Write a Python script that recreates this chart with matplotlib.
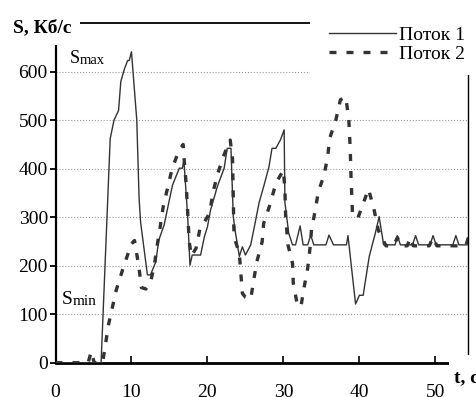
import matplotlib
matplotlib.use('Agg')
import matplotlib.pyplot as plt
from matplotlib.patches import Rectangle
from matplotlib.text import Annotation

# Поток 1 (solid)
t1 = [0, 6.0, 7.2, 7.7, 8.3, 8.6, 9.1, 9.5, 9.7, 10.0, 10.7, 11.0, 11.2, 12.1, 12.5,
      13.2, 13.6, 14.3, 14.7, 15.4, 16.3, 16.7, 16.9, 17.4, 17.7, 18.0, 19.1, 19.6,
      20.0, 20.4, 21.3, 22.2, 22.6, 23.1, 23.4, 23.7, 24.2, 24.6, 25.0, 25.7, 26.3,
      26.8, 27.4, 28.1, 28.5, 29.0, 29.6, 30.1, 30.2, 30.7, 31.2, 31.6, 32.2, 32.6,
      33.2, 33.6, 34.0, 35.6, 36.0, 36.6, 38.3, 38.5, 39.5, 40.0, 40.5, 41.3, 42.1,
      42.6, 43.2, 44.7, 45.0, 45.4, 47.0, 47.4, 47.8, 49.3, 49.7, 50.1, 52.3, 52.7,
      53.1, 54.4]
s1 = [0, 0, 462, 500, 520, 580, 607, 623, 623, 641, 500, 340, 290, 181, 181,
      208, 253, 284, 314, 366, 401, 401, 418, 301, 201, 222, 222, 260,
      280, 314, 363, 401, 442, 442, 301, 267, 219, 239, 222, 243, 290,
      330, 363, 404, 442, 442, 459, 480, 330, 267, 243, 243, 282, 243,
      243, 263, 243, 243, 263, 243, 243, 262, 121, 139, 139, 219, 267,
      301, 243, 243, 262, 243, 243, 262, 243, 243, 262, 243, 243, 262,
      243, 243]

# Поток 2 (dashed)
t2 = [0, 4.3, 4.7, 5.1, 6.2, 7.0, 8.0, 9.0, 10.0, 10.4, 11.0, 11.3, 11.9, 12.5,
      13.0, 13.4, 13.8, 14.2, 14.8, 15.3, 16.1, 16.8, 17.0, 17.2, 17.4, 17.6, 17.9,
      18.5, 19.0, 19.6, 20.3, 20.7, 21.3, 22.0, 22.6, 23.0, 23.3, 23.4, 23.5, 24.2,
      24.4, 24.6, 25.0, 25.7, 26.1, 26.5, 27.2, 27.4, 28.3, 29.0, 30.0, 30.2, 30.3,
      30.6, 31.2, 31.3, 31.8, 32.3, 32.7, 33.2, 33.5, 33.7, 34.2, 34.6, 35.3, 35.8,
      36.1, 36.9, 37.5, 38.2, 38.6, 38.8, 38.9, 39.1, 39.8, 41.2, 41.9, 42.5, 43.5,
      44.5, 45.0, 45.5, 46.3, 46.7, 47.1, 49.2, 49.7, 50.2, 54.0, 54.4]
s2 = [0, 0, 23, 0, 0, 80, 150, 200, 245, 252, 195, 155, 152, 165,
      200, 243, 282, 324, 363, 397, 432, 450, 406, 368, 310, 249, 220,
      236, 275, 290, 309, 349, 387, 421, 445, 459, 421, 342, 260, 225,
      184, 143, 135, 131, 171, 208, 249, 287, 329, 370, 397, 356, 300,
      243, 205, 164, 122, 115, 153, 195, 236, 274, 315, 353, 384, 421,
      463, 500, 542, 548, 504, 440, 384, 305, 298, 358, 318, 273, 241,
      241, 258, 241, 241, 258, 241, 241, 258, 241, 241, 260]

y_ticks = [0, 100, 200, 300, 400, 500, 600]
x_ticks = [0, 10, 20, 30, 40, 50]

plt.rcParams['font.family'] = ['Liberation Serif', 'DejaVu Serif']

W, H = 476, 397
fig = plt.figure(figsize=(W / 100, H / 100), dpi=100)
ax = fig.add_axes([55.5 / W, 34.3 / H, 412.5 / W, 339.5 / H])

ax.plot(t1, s1, color='#333333', linewidth=1.0, label='Поток 1', zorder=3)
ax.plot(t2, s2, color='#333333', linewidth=2.4, linestyle=(0, (2.1, 3.0)),
        dash_capstyle='butt', label='Поток 2', zorder=3)

ax.set_xlim(0, 54.3)
ax.set_ylim(0, 700)
ax.set_xticks(x_ticks)
ax.set_yticks(y_ticks)
ax.yaxis.grid(True, linestyle=':', color='#999999', linewidth=0.8)
ax.set_axisbelow(True)

ax.tick_params(axis='x', direction='in', length=5, width=1.2, labelsize=14, pad=15)
ax.tick_params(axis='y', direction='out', length=4.5, width=1.3, labelsize=14, pad=1)

ax.spines['bottom'].set_linewidth(2.0)
ax.spines['left'].set_linewidth(1.6)
ax.spines['top'].set_linewidth(1.3)
ax.spines['right'].set_linewidth(1.0)

# white boxes behind the axis title, legend and 't, c' (they hide the frame there)
for x0, y0, w, h in [(0, 0, 80, 45), (310, 0, 166, 75), (449, 355, 27, 42)]:
    fig.patches.append(Rectangle((x0 / W, 1 - (y0 + h) / H), w / W, h / H,
                                 transform=fig.transFigure, facecolor='white',
                                 edgecolor='none', zorder=2))

fig.text(13 / W, 1 - 32 / H, 'S, Кб/с', fontsize=14, fontweight='bold',
         va='baseline', ha='left', zorder=4)
fig.text(454 / W, 1 - 382 / H, 't, c', fontsize=14, fontweight='bold',
         va='baseline', ha='left', zorder=4)

smax = fig.text(70 / W, 1 - 63 / H, 'S', fontsize=13, va='baseline', ha='left', zorder=4)
fig.add_artist(Annotation('max', xy=(1, 0), xycoords=smax,
                          fontsize=10.5, va='bottom', ha='left'))
smin = fig.text(62 / W, 1 - 304 / H, 'S', fontsize=14, va='baseline', ha='left', zorder=4)
fig.add_artist(Annotation('min', xy=(1, 0), xycoords=smin,
                          fontsize=11, va='bottom', ha='left'))

leg = fig.legend(loc='upper left', bbox_to_anchor=(329 / W, 1 - 26 / H),
                 frameon=False, fontsize=14, borderpad=0, borderaxespad=0,
                 handlelength=3.45, handletextpad=0.15, labelspacing=0.1)
leg.set_zorder(5)

fig.savefig('out.png', dpi=100)
